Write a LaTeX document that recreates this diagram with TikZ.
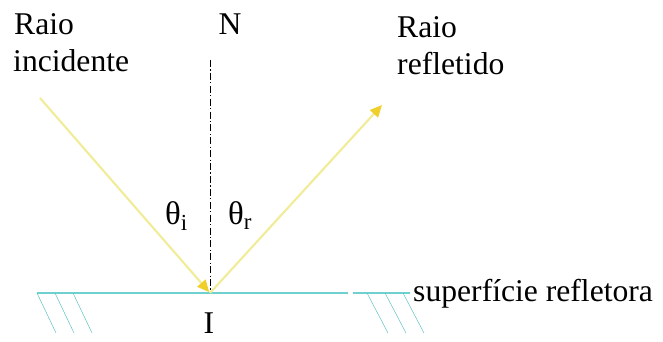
\documentclass[tikz,border=0pt]{standalone}
\usepackage{fontspec}
\setmainfont{Liberation Serif}
\usetikzlibrary{arrows.meta}
\definecolor{pale}{HTML}{F1EC98}
\definecolor{gold}{HTML}{F0CF2A}
\definecolor{aqua}{HTML}{6FD0D0}
\tikzset{ray/.style={draw=pale,line width=1.8pt,-{Triangle[length=3.6mm,width=3.2mm,color=gold]}},normal/.style={draw=black,semithick,dash pattern=on 6pt off 2pt on 1pt off 2pt},surface/.style={draw=aqua,line width=1.2pt},hatch/.style={draw=aqua!80!teal,thin},lbl/.style={font=\fontsize{27}{30}\selectfont,inner sep=0pt},ang/.style={font=\fontsize{28}{30}\selectfont,inner sep=0pt}}

\begin{document}
\begin{tikzpicture}[x=0.03cm,y=-0.03cm]
\useasboundingbox[fill=white] (0,0) rectangle (663,342);
\coordinate (I) at (210,293);
\coordinate (src) at (40,98);
\coordinate (dst) at (382,105);
\coordinate (ntop) at (210,60);
% superficie
\draw[surface] (37,293) -- (348,293);
\draw[surface] (353,293) -- (410,293);
\foreach \x in {37,55,73}\draw[hatch] (\x,293) -- ++(19,40);
\foreach \x in {367,385,403}\draw[hatch] (\x,293) -- ++(21,40);
% normal e raios
\draw[normal] (ntop) -- (I);
\draw[ray,shorten >=1pt] (src) -- (I);
\draw[ray] (I) -- (dst);
% textos
\node[lbl,anchor=base west] (ri) at (14,35) {Raio};
\node[lbl,anchor=base west] (inc) at (13,72) {incidente};
\node[lbl,anchor=base] (n) at (230,35) {N};
\node[lbl,anchor=base west] (rr) at (397,38) {Raio};
\node[lbl,anchor=base west] (ref) at (397,75) {refletido};
\node[ang,anchor=base west] (ti) at (165,225) {θ\textsubscript{i}};
\node[ang,anchor=base west] (tr) at (228,225) {θ\textsubscript{r}};
\node[lbl,anchor=base] (ip) at (209,333) {I};
\node[lbl,anchor=base west] (sup) at (413,302) {superfície refletora};
\end{tikzpicture}
\end{document}
